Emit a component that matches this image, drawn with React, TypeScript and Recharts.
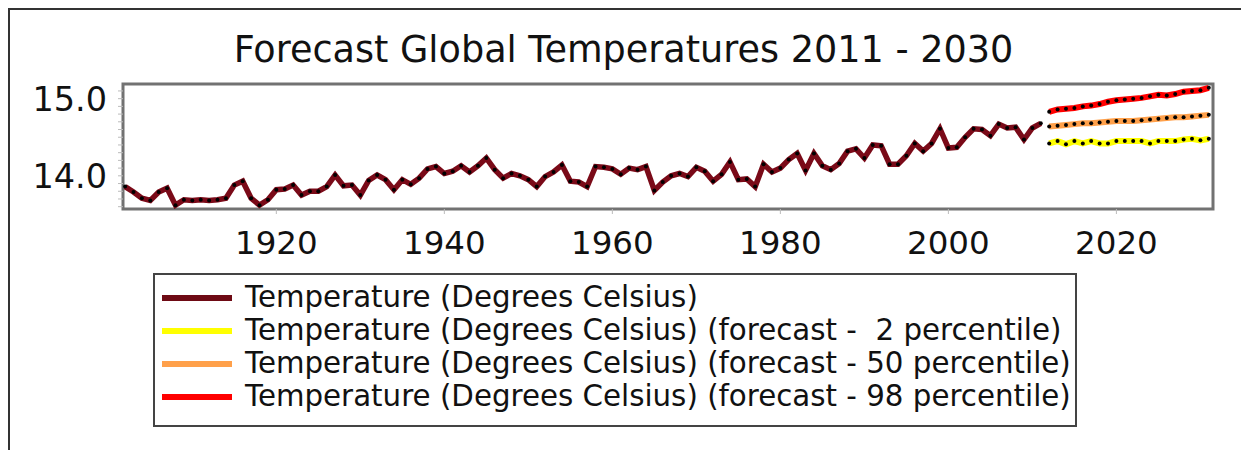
import React from 'react';
import { LineChart, Line, XAxis, YAxis, ReferenceArea, Legend } from 'recharts';

const TITLE = 'Forecast Global Temperatures 2011 - 2030';
const HIST_START_YEAR = 1902;
const FORECAST_START_YEAR = 2012;

const histTemps = [
  13.86, 13.79, 13.71, 13.68, 13.79, 13.84, 13.62, 13.69, 13.68, 13.69,
  13.68, 13.69, 13.71, 13.88, 13.93, 13.71, 13.62, 13.69, 13.82, 13.83,
  13.88, 13.75, 13.80, 13.80, 13.86, 14.01, 13.87, 13.88, 13.75, 13.94,
  14.01, 13.95, 13.82, 13.95, 13.89, 13.97, 14.09, 14.12, 14.03, 14.06,
  14.13, 14.05, 14.13, 14.23, 14.08, 13.97, 14.03, 14.00, 13.95, 13.86,
  13.99, 14.05, 14.14, 13.93, 13.92, 13.86, 14.12, 14.11, 14.09, 14.02,
  14.10, 14.08, 14.12, 13.81, 13.92, 14.00, 14.03, 13.99, 14.11, 14.06,
  13.93, 14.02, 14.18, 13.95, 13.96, 13.86, 14.15, 14.05, 14.10, 14.21,
  14.29, 14.07, 14.29, 14.13, 14.08, 14.16, 14.32, 14.35, 14.23, 14.40,
  14.39, 14.15, 14.15, 14.26, 14.42, 14.32, 14.42, 14.61, 14.36, 14.37,
  14.50, 14.61, 14.60, 14.52, 14.67, 14.62, 14.63, 14.47, 14.62, 14.68,
];

const forecastP2 = [
  14.42, 14.45, 14.41, 14.45, 14.42, 14.45, 14.42, 14.42, 14.45, 14.45,
  14.45, 14.45, 14.42, 14.45, 14.45, 14.45, 14.47, 14.48, 14.46, 14.48,
];
const forecastP50 = [
  14.64, 14.65, 14.66, 14.67, 14.68, 14.68, 14.69, 14.70, 14.71, 14.71,
  14.71, 14.72, 14.73, 14.74, 14.75, 14.76, 14.76, 14.77, 14.78, 14.79,
];
const forecastP98 = [
  14.83, 14.86, 14.87, 14.88, 14.90, 14.91, 14.93, 14.96, 14.98, 14.99,
  15.00, 15.01, 15.03, 15.05, 15.04, 15.06, 15.09, 15.10, 15.11, 15.14,
];

const xTicks = [1920, 1940, 1960, 1980, 2000, 2020];
const yTicks = [13.6, 13.7, 13.8, 13.9, 14.0, 14.1, 14.2, 14.3, 14.4, 14.5, 14.6, 14.7, 14.8, 14.9, 15.0, 15.1];
const yLabelTicks = ['14.0', '15.0'];

const X_DOMAIN: [number, number] = [1901.75, 2031.5];
const Y_DOMAIN: [number, number] = [13.57, 15.19];

const seriesNames = [
  'Temperature (Degrees Celsius)',
  'Temperature (Degrees Celsius) (forecast -  2 percentile)',
  'Temperature (Degrees Celsius) (forecast - 50 percentile)',
  'Temperature (Degrees Celsius) (forecast - 98 percentile)',
];
const seriesKeys = ['hist', 'p2', 'p50', 'p98'];
const seriesColors = ['#7a0a18', '#ffff00', '#ffa04a', '#ff0000'];
const legendColors = ['#6e0a14', '#ffff00', '#ffa04a', '#ff0000'];

type Row = { year: number; hist?: number; p2?: number; p50?: number; p98?: number };
const data: Row[] = [];
histTemps.forEach((v, i) => data.push({ year: HIST_START_YEAR + i, hist: v }));
forecastP2.forEach((v, i) =>
  data.push({ year: FORECAST_START_YEAR + i, p2: v, p50: forecastP50[i], p98: forecastP98[i] })
);

const FONT = '"DejaVu Sans", sans-serif';

const renderLegend = () => (
  <div
    style={{
      width: 924,
      height: 154,
      boxSizing: 'border-box',
      border: '2px solid #444',
      paddingTop: 6,
      paddingLeft: 7,
      background: '#fff',
      fontFamily: FONT,
    }}
  >
    {seriesNames.map((name, i) => (
      <div key={name} style={{ display: 'flex', alignItems: 'center', height: 33 }}>
        <div style={{ width: 70, height: 6, background: legendColors[i], marginRight: 13 }} />
        <span style={{ fontSize: 29.3, color: '#111', whiteSpace: 'pre', lineHeight: '33px' }}>{name}</span>
      </div>
    ))}
  </div>
);

const yFormatter = (v: number) => {
  const s = v.toFixed(1);
  return yLabelTicks.includes(s) ? s : '';
};

export default function App() {
  return (
    <div style={{ position: 'fixed', left: 0, top: 0, width: 1241, height: 450, background: '#fff' }}>
      <div
        style={{
          position: 'absolute',
          left: 8,
          top: 8,
          width: 1233,
          height: 442,
          boxSizing: 'border-box',
          borderTop: '2px solid #333',
          borderLeft: '2px solid #333',
        }}
      />
      <div
        style={{
          position: 'absolute',
          left: 3,
          top: 31,
          width: 1241,
          textAlign: 'center',
          fontFamily: FONT,
          fontSize: 36.6,
          lineHeight: '37px',
          color: '#111',
          whiteSpace: 'pre',
        }}
      >
        {TITLE}
      </div>
      <div style={{ position: 'absolute', left: 0, top: 0 }}>
        <LineChart width={1241} height={450} data={data} margin={{ top: 84, right: 28, bottom: 201, left: 23 }}>
          <XAxis
            dataKey="year"
            type="number"
            domain={X_DOMAIN}
            allowDataOverflow
            ticks={xTicks}
            interval={0}
            height={40}
            axisLine={false}
            tickSize={5}
            tickMargin={17}
            tickLine={{ stroke: '#bbb' }}
            tick={{ fontSize: 32.5, fill: '#111', fontFamily: FONT }}
          />
          <YAxis
            type="number"
            domain={Y_DOMAIN}
            allowDataOverflow
            ticks={yTicks}
            interval={0}
            width={100}
            axisLine={false}
            tickSize={5}
            tickMargin={11}
            tickLine={{ stroke: '#bbb' }}
            tickFormatter={yFormatter}
            tick={{ fontSize: 33.5, fill: '#111', fontFamily: FONT }}
          />
          <ReferenceArea
            x1={X_DOMAIN[0]}
            x2={X_DOMAIN[1]}
            y1={Y_DOMAIN[0]}
            y2={Y_DOMAIN[1]}
            fill="none"
            stroke="#727272"
            strokeWidth={3}
            ifOverflow="visible"
          />
          {seriesKeys.map((k, i) => (
            <Line
              key={k}
              dataKey={k}
              name={seriesNames[i]}
              type="linear"
              stroke={seriesColors[i]}
              strokeWidth={i === 0 ? 5.5 : 6}
              dot={{ r: 2, fill: '#000', stroke: 'none' }}
              activeDot={false}
              connectNulls={false}
              isAnimationActive={false}
            />
          ))}
          <Legend
            layout="vertical"
            verticalAlign="middle"
            align="center"
            content={renderLegend}
            wrapperStyle={{ left: 153, top: 273, width: 924, height: 154 }}
          />
        </LineChart>
      </div>
    </div>
  );
}
